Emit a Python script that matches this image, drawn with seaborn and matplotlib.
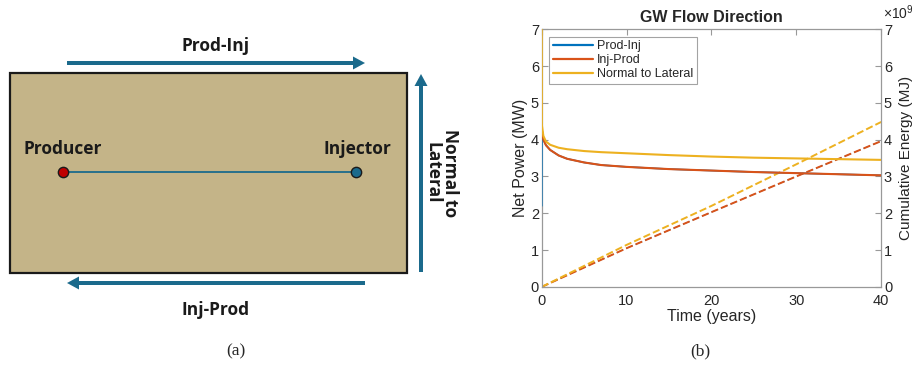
import numpy as np
import pandas as pd
import matplotlib
matplotlib.use("Agg")
import matplotlib.pyplot as plt
import matplotlib.patches as mpatches
from matplotlib.ticker import FuncFormatter
import seaborn as sns

# --- data (panel b) ---
series_names = ["Prod-Inj", "Inj-Prod", "Normal to Lateral"]
series_colors = ["#0072BD", "#D95319", "#EDB120"]

time_power = [0, 0.02, 0.2, 0.5, 1, 2, 3, 5, 7, 10, 15, 20, 25, 30, 35, 40]
power_prod_inj = [2.2, 4.3, 4.0, 3.85, 3.72, 3.57, 3.48, 3.38, 3.31, 3.26, 3.2, 3.16, 3.12, 3.09, 3.06, 3.03]
power_inj_prod = [4.3, 4.25, 4.0, 3.85, 3.72, 3.57, 3.48, 3.38, 3.31, 3.26, 3.2, 3.16, 3.12, 3.09, 3.06, 3.03]
power_normal = [7.0, 4.4, 4.1, 3.95, 3.86, 3.78, 3.74, 3.69, 3.66, 3.63, 3.58, 3.54, 3.51, 3.49, 3.47, 3.45]

time_energy = [0, 10, 20, 30, 40]
energy_prod_inj = [0, 1.05, 2.03, 3.0, 3.96]   # x1e9 MJ
energy_inj_prod = [0, 1.05, 2.03, 3.0, 3.96]
energy_normal = [0, 1.14, 2.2, 3.33, 4.48]

power_df = pd.DataFrame({
    "Time": time_power * 3,
    "Power": power_prod_inj + power_inj_prod + power_normal,
    "Case": [series_names[0]] * len(time_power) + [series_names[1]] * len(time_power)
            + [series_names[2]] * len(time_power),
})
energy_df = pd.DataFrame({
    "Time": time_energy * 3,
    "Energy": np.array(energy_prod_inj + energy_inj_prod + energy_normal) * 1e9,
    "Case": [series_names[0]] * len(time_energy) + [series_names[1]] * len(time_energy)
            + [series_names[2]] * len(time_energy),
})

sns.set_theme(style="white")
plt.rcParams["font.family"] = ["Liberation Sans", "DejaVu Sans"]
plt.rcParams["mathtext.default"] = "regular"

fig = plt.figure(figsize=(9.15, 3.65), dpi=100)

# --- panel (a): schematic drawn in pixel coordinates ---
ax0 = fig.add_axes([0, 0, 1, 1])
ax0.set_xlim(0, 915)
ax0.set_ylim(365, 0)
ax0.axis("off")

arrow_col = "#1B6A8C"
ax0.add_patch(mpatches.Rectangle((10, 73), 397, 200, facecolor="#C4B488",
                                 edgecolor="#1a1a1a", lw=1.6))
arrow_kw = dict(width=4, head_width=13, head_length=12, length_includes_head=True,
                color=arrow_col, lw=0)
ax0.add_patch(mpatches.FancyArrow(67, 63, 298, 0, **arrow_kw))
ax0.add_patch(mpatches.FancyArrow(365, 283, -298, 0, **arrow_kw))
ax0.add_patch(mpatches.FancyArrow(421, 272, 0, -198, **arrow_kw))

ax0.plot([63, 356], [172, 172], color=arrow_col, lw=1.3)
ax0.scatter([63], [172], s=55, color="#C00000", edgecolor="#1a1a1a", lw=1.0, zorder=5)
ax0.scatter([356], [172], s=55, color=arrow_col, edgecolor="#1a1a1a", lw=1.0, zorder=5)

lab_kw = dict(fontsize=12.5, fontweight="bold", color="#1a1a1a", ha="center", va="center",
              family=["Open Sans", "DejaVu Sans"])
ax0.text(216, 46, "Prod-Inj", **lab_kw)
ax0.text(216, 310, "Inj-Prod", **lab_kw)
ax0.text(63, 149, "Producer", **lab_kw)
ax0.text(357, 149, "Injector", **lab_kw)
ax0.text(441, 173, "Normal to\nLateral", rotation=-90, linespacing=0.95, **lab_kw)

ax0.text(236, 351, "(a)", fontsize=12.5, ha="center", va="center",
         family=["Liberation Serif"])
ax0.text(700, 351, "(b)", fontsize=12.5, ha="center", va="center",
         family=["Liberation Serif"])

# --- panel (b): power and cumulative energy ---
ax = fig.add_axes([0.592, 0.214, 0.371, 0.706])
sns.lineplot(data=power_df, x="Time", y="Power", hue="Case", hue_order=series_names,
             palette=series_colors, lw=1.5, sort=False, ax=ax)
ax.lines[0].set_linewidth(1.2)  # blue sits under the red curve
ax.set_xlim(0, 40)
ax.set_ylim(0, 7)
ax.set_xticks([0, 10, 20, 30, 40])
ax.set_yticks(range(8))
ax.set_xlabel("Time (years)", fontsize=11.5, labelpad=1)
ax.set_ylabel("Net Power (MW)", fontsize=11.5, labelpad=2)
ax.set_title("GW Flow Direction", fontsize=11.5, fontweight="bold", pad=5)

ax2 = ax.twinx()
sns.lineplot(data=energy_df, x="Time", y="Energy", hue="Case", hue_order=series_names,
             palette=series_colors, lw=1.4, linestyle="--", legend=False, ax=ax2)
ax2.lines[0].set_linewidth(0.7)
ax2.lines[0].set_dashes([3.7 * 1.4 / 0.7, 1.6 * 1.4 / 0.7])
ax2.set_ylim(0, 7e9)
ax2.set_yticks(np.arange(8) * 1e9)
ax2.yaxis.set_major_formatter(FuncFormatter(lambda v, p: f"{v / 1e9:g}"))
ax2.text(1.005, 1.04, r"$\times10^{9}$", transform=ax2.transAxes, ha="left", va="baseline",
         fontsize=10, color="#262626")
ax2.set_ylabel("Cumulative Energy (MJ)", fontsize=11, labelpad=5)

# the power curves are drawn above the twin axes so the t=0 jumps show
ax.set_zorder(ax2.get_zorder() + 1)
ax.patch.set_visible(False)
for ln in ax.lines:
    ln.set_zorder(3)

spine_col = "#999999"
for a in (ax, ax2):
    for s in a.spines.values():
        s.set_color(spine_col)
        s.set_linewidth(0.9)
    a.tick_params(direction="in", length=4, width=0.8, color=spine_col,
                  labelsize=10.5, labelcolor="#262626", pad=2)
ax.spines["right"].set_visible(False)
for side in ("left", "top", "bottom"):
    ax2.spines[side].set_visible(False)
ax.tick_params(axis="x", top=True, pad=5)

leg = ax.legend(loc="upper left", fontsize=9, frameon=True, fancybox=False,
                edgecolor="#8c8c8c", handlelength=3.2, handletextpad=0.3,
                borderpad=0.3, labelspacing=0.15, borderaxespad=0.6)
leg.get_frame().set_linewidth(0.8)
for line in leg.get_lines():
    line.set_linewidth(1.6)

fig.savefig("out.png", dpi=100)
